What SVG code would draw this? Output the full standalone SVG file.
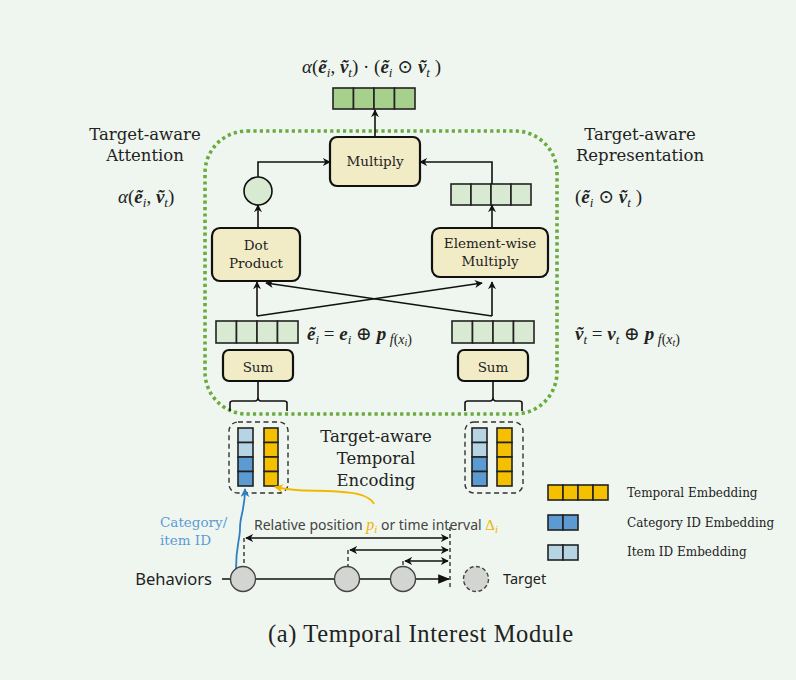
<svg xmlns="http://www.w3.org/2000/svg" width="796" height="680" viewBox="0 0 796 680">
<defs>
<marker id="ah" viewBox="0 0 10 10" refX="9" refY="5" markerWidth="8" markerHeight="8" markerUnits="userSpaceOnUse" orient="auto-start-reverse"><path d="M0,0 L10,5 L0,10 L3,5 z" fill="#111"/></marker>
<marker id="ahb" viewBox="0 0 10 10" refX="9" refY="5" markerWidth="9" markerHeight="9" markerUnits="userSpaceOnUse" orient="auto"><path d="M0,0 L10,5 L0,10 L3,5 z" fill="#2f7fc1"/></marker>
<marker id="ahy" viewBox="0 0 10 10" refX="9" refY="5" markerWidth="9" markerHeight="9" markerUnits="userSpaceOnUse" orient="auto"><path d="M0,0 L10,5 L0,10 L3,5 z" fill="#f2b800"/></marker>
<marker id="ahf" viewBox="0 0 10 10" refX="9" refY="5" markerWidth="12" markerHeight="12" markerUnits="userSpaceOnUse" orient="auto"><path d="M0,1 L10,5 L0,9 z" fill="#111"/></marker>
</defs>
<style>
.box{fill:#f2ecc6;stroke:#111;stroke-width:2.2}
.lbl{font-family:"DejaVu Serif","Liberation Serif",serif;font-size:13.5px;fill:#222;text-anchor:middle}
.tw{font-family:"DejaVu Serif","Liberation Serif",serif;font-size:16.5px;fill:#222;text-anchor:middle}
.math{font-family:"Liberation Serif","DejaVu Serif",serif;font-size:19px;fill:#222}
.b{font-weight:bold;font-style:italic}
.it{font-style:italic}
.cell{stroke:#222;stroke-width:1.6}
.g1{fill:#a8d08d}
.g2{fill:#d9ead3}
.ye{fill:#f5c000}
.bl{fill:#5b9bd1}
.lb{fill:#b6d4e4}
.ln{fill:none;stroke:#111;stroke-width:1.6}
.leg{font-family:"DejaVu Serif","Liberation Serif",serif;font-size:12px;fill:#222}
.sans{font-family:"Noto Sans","DejaVu Sans",sans-serif}
</style>
<rect width="796" height="680" fill="#eff6ef"/>

<g id="container">
<rect x="205" y="131" width="352" height="283" rx="42" fill="none" stroke="#6aab40" stroke-width="3.6" stroke-dasharray="3.2,3.2"/>
</g>

<g id="output-formula">
<text class="math" x="302" y="73"><tspan class="it">α</tspan>(<tspan class="b">ẽ</tspan><tspan class="it" font-size="13" dy="4">i</tspan><tspan dy="-4">, </tspan><tspan class="b">ṽ</tspan><tspan class="it" font-size="13" dy="4">t</tspan><tspan dy="-4">) · (</tspan><tspan class="b">ẽ</tspan><tspan class="it" font-size="13" dy="4">i</tspan><tspan dy="-4">  ⊙  </tspan><tspan class="b">ṽ</tspan><tspan class="it" font-size="13" dy="4">t</tspan><tspan dy="-4"> )</tspan></text>
</g>
<g id="output-vector">
<rect class="cell g1" x="333" y="88" width="20.5" height="21"/><rect class="cell g1" x="353.5" y="88" width="20.5" height="21"/><rect class="cell g1" x="374" y="88" width="20.5" height="21"/><rect class="cell g1" x="394.5" y="88" width="20.5" height="21"/>
</g>

<g id="multiply"><rect class="box" x="330" y="137" width="90" height="49" rx="7"/><text class="lbl" x="375" y="166">Multiply</text></g>
<g id="attn-score"><circle cx="258" cy="191" r="14" fill="#d9ead3" stroke="#111" stroke-width="1.6"/></g>
<g id="repr-vector">
<rect class="cell g2" x="451" y="184" width="20" height="21"/><rect class="cell g2" x="471" y="184" width="20" height="21"/><rect class="cell g2" x="491" y="184" width="20" height="21"/><rect class="cell g2" x="511" y="184" width="20" height="21"/>
</g>
<g id="dot-product"><rect class="box" x="212" y="228" width="88" height="53" rx="8"/><text class="lbl" x="256" y="250" font-size="14.5">Dot</text><text class="lbl" x="256" y="268" font-size="14.5">Product</text></g>
<g id="elementwise"><rect class="box" x="432" y="228" width="116" height="49" rx="8"/><text class="lbl" x="490" y="248" font-size="12.5">Element-wise</text><text class="lbl" x="490" y="266" font-size="12.5">Multiply</text></g>

<g id="ei-vector">
<rect class="cell g2" x="216" y="321" width="20.5" height="22"/><rect class="cell g2" x="236.5" y="321" width="20.5" height="22"/><rect class="cell g2" x="257" y="321" width="20.5" height="22"/><rect class="cell g2" x="277.5" y="321" width="20.5" height="22"/>
</g>
<g id="vt-vector">
<rect class="cell g2" x="452" y="321" width="20.5" height="22"/><rect class="cell g2" x="472.5" y="321" width="20.5" height="22"/><rect class="cell g2" x="493" y="321" width="20.5" height="22"/><rect class="cell g2" x="513.5" y="321" width="20.5" height="22"/>
</g>
<g id="ei-formula"><text class="math" x="307" y="340"><tspan class="b">ẽ</tspan><tspan class="it" font-size="13" dy="4">i</tspan><tspan dy="-4"> = </tspan><tspan class="b">e</tspan><tspan class="it" font-size="13" dy="4">i</tspan><tspan dy="-4"> ⊕ </tspan><tspan class="b">p</tspan><tspan class="it" font-size="14" dy="4"> f</tspan><tspan font-size="14">(</tspan><tspan class="it" font-size="14">x</tspan><tspan class="it" font-size="10" dy="2">i</tspan><tspan font-size="14" dy="-2">)</tspan></text></g>
<g id="vt-formula"><text class="math" x="575" y="340"><tspan class="b">ṽ</tspan><tspan class="it" font-size="13" dy="4">t</tspan><tspan dy="-4"> = </tspan><tspan class="b">v</tspan><tspan class="it" font-size="13" dy="4">t</tspan><tspan dy="-4"> ⊕ </tspan><tspan class="b">p</tspan><tspan class="it" font-size="14" dy="4"> f</tspan><tspan font-size="14">(</tspan><tspan class="it" font-size="14">x</tspan><tspan class="it" font-size="10" dy="2">t</tspan><tspan font-size="14" dy="-2">)</tspan></text></g>

<g id="sum-left"><rect class="box" x="223" y="350" width="70" height="31" rx="6"/><text class="lbl" x="258" y="372" font-size="15.5">Sum</text></g>
<g id="sum-right"><rect class="box" x="458" y="350" width="70" height="31" rx="6"/><text class="lbl" x="493" y="372" font-size="15.5">Sum</text></g>

<g id="te-left">
<rect x="229" y="422" width="59" height="71" rx="9" fill="none" stroke="#333" stroke-width="1.4" stroke-dasharray="5,3.5"/>
<rect class="cell lb" x="238" y="428" width="15" height="14.5"/><rect class="cell lb" x="238" y="442.5" width="15" height="14.5"/><rect class="cell bl" x="238" y="457" width="15" height="14.5"/><rect class="cell bl" x="238" y="471.5" width="15" height="14.5"/>
<rect class="cell ye" x="264" y="428" width="14" height="14.5"/><rect class="cell ye" x="264" y="442.5" width="14" height="14.5"/><rect class="cell ye" x="264" y="457" width="14" height="14.5"/><rect class="cell ye" x="264" y="471.5" width="14" height="14.5"/>
</g>
<g id="te-right">
<rect x="465" y="422" width="58" height="71" rx="9" fill="none" stroke="#333" stroke-width="1.4" stroke-dasharray="5,3.5"/>
<rect class="cell lb" x="472" y="428" width="15" height="14.5"/><rect class="cell lb" x="472" y="442.5" width="15" height="14.5"/><rect class="cell bl" x="472" y="457" width="15" height="14.5"/><rect class="cell bl" x="472" y="471.5" width="15" height="14.5"/>
<rect class="cell ye" x="497" y="428" width="15" height="14.5"/><rect class="cell ye" x="497" y="442.5" width="15" height="14.5"/><rect class="cell ye" x="497" y="457" width="15" height="14.5"/><rect class="cell ye" x="497" y="471.5" width="15" height="14.5"/>
</g>

<g id="labels">
<text class="tw" x="145" y="140">Target-aware</text><text class="tw" x="145" y="161">Attention</text>
<text class="tw" x="640" y="140">Target-aware</text><text class="tw" x="640" y="161">Representation</text>
<text class="tw" x="376" y="442">Target-aware</text><text class="tw" x="376" y="464">Temporal</text><text class="tw" x="376" y="486">Encoding</text>
<text class="math" x="118" y="203"><tspan class="it">α</tspan>(<tspan class="b">ẽ</tspan><tspan class="it" font-size="13" dy="4">i</tspan><tspan dy="-4">, </tspan><tspan class="b">ṽ</tspan><tspan class="it" font-size="13" dy="4">t</tspan><tspan dy="-4">)</tspan></text>
<text class="math" x="575" y="203">(<tspan class="b">ẽ</tspan><tspan class="it" font-size="13" dy="4">i</tspan><tspan dy="-4">  ⊙  </tspan><tspan class="b">ṽ</tspan><tspan class="it" font-size="13" dy="4">t</tspan><tspan dy="-4"> )</tspan></text>
</g>

<g id="connectors">
<path class="ln" d="M375,137 V110" marker-end="url(#ah)"/>
<path class="ln" d="M258,177 V162 H330" marker-end="url(#ah)"/>
<path class="ln" d="M492,184 V162 H420" marker-end="url(#ah)"/>
<path class="ln" d="M258,228 V205" marker-end="url(#ah)"/>
<path class="ln" d="M492,228 V205" marker-end="url(#ah)"/>
<path class="ln" d="M257,316 V282" marker-end="url(#ah)"/>
<path class="ln" d="M492,316 V282" marker-end="url(#ah)"/>
<path class="ln" d="M257,316 L482,283" marker-end="url(#ah)"/>
<path class="ln" d="M492,316 L266,283" marker-end="url(#ah)"/>
<path class="ln" d="M258,381 V397 M230,411 V403 Q230,401 233,401 H255 Q258,401 258,397 Q258,401 261,401 H284 Q287,401 287,403 V411" stroke-width="1.3"/>
<path class="ln" d="M493,381 V397 M465,411 V403 Q465,401 468,401 H490 Q493,401 493,397 Q493,401 496,401 H519 Q522,401 522,403 V411" stroke-width="1.3"/>
<path d="M236,569 C236,545 240,540 240,528 C240,515 245,510 245,489" fill="none" stroke="#2f7fc1" stroke-width="1.8" marker-end="url(#ahb)"/>
<path d="M374,504 C366,488 320,492 296,490 C286,489 280,488 275,487" fill="none" stroke="#f2b800" stroke-width="1.8" marker-end="url(#ahy)"/>
</g>

<g id="legend">
<rect class="cell ye" x="548" y="485" width="15" height="15"/><rect class="cell ye" x="563" y="485" width="15" height="15"/><rect class="cell ye" x="578" y="485" width="15" height="15"/><rect class="cell ye" x="593" y="485" width="15" height="15"/>
<text class="leg" x="627" y="497">Temporal Embedding</text>
<rect class="cell bl" x="548" y="515" width="15" height="15"/><rect class="cell bl" x="563" y="515" width="15" height="15"/>
<text class="leg" x="627" y="527">Category ID Embedding</text>
<rect class="cell lb" x="548" y="545" width="15" height="15"/><rect class="cell lb" x="563" y="545" width="15" height="15"/>
<text class="leg" x="627" y="556">Item ID Embedding</text>
</g>

<g id="timeline">
<text class="sans" x="212" y="585" font-size="16.5" fill="#222" text-anchor="end">Behaviors</text>
<path class="ln" d="M222,579 H449" stroke-width="1.4" marker-end="url(#ahf)"/>
<path d="M450,527 V588 M244,538 V567 M348,550 V567 M403,561 V567" fill="none" stroke="#222" stroke-width="1.3" stroke-dasharray="4,3"/>
<path class="ln" d="M246,538 H448" stroke-width="1.3" marker-start="url(#ah)" marker-end="url(#ah)"/>
<path class="ln" d="M350,550 H448" stroke-width="1.3" marker-start="url(#ah)" marker-end="url(#ah)"/>
<path class="ln" d="M405,561 H448" stroke-width="1.3" marker-start="url(#ah)" marker-end="url(#ah)"/>
<circle cx="243" cy="579" r="12.5" fill="#d3d5d2" stroke="#444" stroke-width="1.4"/>
<circle cx="347" cy="579" r="12.5" fill="#d3d5d2" stroke="#444" stroke-width="1.4"/>
<circle cx="403" cy="579" r="12.5" fill="#d3d5d2" stroke="#444" stroke-width="1.4"/>
<circle cx="476" cy="579" r="12.5" fill="#d3d5d2" stroke="#444" stroke-width="1.4" stroke-dasharray="4,2.5"/>
<text class="sans" x="503" y="584" font-size="14.5" fill="#222">Target</text>
<text class="sans" x="254" y="530" font-size="14" fill="#444">Relative position <tspan fill="#f0b400" font-family="Liberation Serif,serif" font-style="italic" font-size="16">p</tspan><tspan fill="#f0b400" font-family="Liberation Serif,serif" font-style="italic" font-size="11" dy="3">i</tspan><tspan dy="-3"> or time interval </tspan><tspan fill="#f0b400" font-family="Liberation Serif,serif" font-size="15">Δ</tspan><tspan fill="#f0b400" font-family="Liberation Serif,serif" font-style="italic" font-size="11" dy="3">i</tspan></text>
<text x="160" y="527" style="font-family:'DejaVu Serif','Liberation Serif',serif;font-size:13.5px;fill:#5b9bd5">Category/</text>
<text x="160" y="545" style="font-family:'DejaVu Serif','Liberation Serif',serif;font-size:13.5px;fill:#5b9bd5">item ID</text>
</g>

<g id="caption"><text x="268" y="642" font-family="Liberation Serif,serif" font-size="24.5" fill="#222" textLength="305" lengthAdjust="spacing">(a)  Temporal Interest Module</text></g>
</svg>
